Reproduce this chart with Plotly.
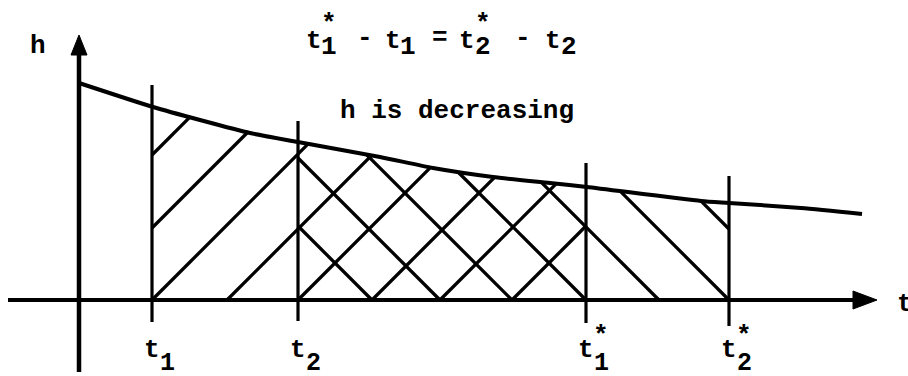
import numpy as np
import plotly.graph_objects as go

# ---- data (t along horizontal axis, h vertical) ----
curve_t = [0, 74, 121, 171, 219, 301, 354, 414, 471, 508, 622, 650, 722, 783]
curve_h = [217, 193, 180, 167, 158, 143, 132, 123, 117, 113, 99, 97, 92, 86]

mark_names = ["t1", "t2", "t1*", "t2*"]
mark_t = [73, 219, 507, 650]
mark_top = [215, 179, 137, 124]
mark_bottom = [-22, -21, -23, -26]
mark_base = ["t", "t", "t", "t"]
mark_sub = ["1", "2", "1", "2"]
mark_star = [False, False, True, True]

# hatch line intercepts on the t axis
slash_starts = [-72, 1, 73, 148, 219, 293, 361, 433]      # "/" lines  h = t - s, t in [t1, t1*]
backslash_ends = [293, 361, 433, 507, 580, 650, 721]     # "\" lines  h = e - t, t in [t2, t2*]

axis_t = [-71, 798]
axis_h = [-72, 265]

note_text = "h is decreasing"

T1, T2, T1S, T2S = mark_t


def curve_at(t):
    return np.interp(t, curve_t, curve_h)


hx, hy = [], []
for s in slash_starts:
    lo = max(s, T1)
    hi = T1S
    if lo >= hi:
        continue
    grid = np.linspace(lo, hi, 4000)
    hv = grid - s
    if hv[0] >= curve_at(grid[0]):
        continue
    above = np.where(hv >= curve_at(grid))[0]
    end = grid[above[0]] if len(above) else hi
    hx += [lo, end, None]
    hy += [lo - s, end - s, None]

for e in backslash_ends:
    lo = T2
    hi = min(e, T2S)
    if lo >= hi:
        continue
    grid = np.linspace(lo, hi, 4000)
    hv = e - grid
    below = np.where(hv <= curve_at(grid))[0]
    if not len(below):
        continue
    start = grid[below[0]]
    hx += [start, hi, None]
    hy += [e - start, e - hi, None]

fig = go.Figure()

# hatching
fig.add_trace(go.Scatter(x=hx, y=hy, mode="lines", line=dict(color="black", width=3.3),
                         hoverinfo="skip"))

# vertical marks
vx, vy = [], []
for t, top, bot in zip(mark_t, mark_top, mark_bottom):
    vx += [t, t, None]
    vy += [bot, top, None]
fig.add_trace(go.Scatter(x=vx, y=vy, mode="lines", line=dict(color="black", width=3.2),
                         hoverinfo="skip"))

# curve
fig.add_trace(go.Scatter(x=curve_t, y=curve_h, mode="lines",
                         line=dict(color="black", width=4, shape="spline", smoothing=0.6),
                         hoverinfo="skip"))

# axes
fig.add_trace(go.Scatter(x=[axis_t[0], axis_t[1] - 10], y=[0, 0], mode="lines",
                         line=dict(color="black", width=4), hoverinfo="skip"))
fig.add_trace(go.Scatter(x=[0, 0], y=[axis_h[0], axis_h[1] - 10], mode="lines",
                         line=dict(color="black", width=4.5), hoverinfo="skip"))
# arrow heads
fig.add_trace(go.Scatter(x=[axis_t[1], axis_t[1] - 24, axis_t[1] - 24, axis_t[1]],
                         y=[0, 9, -9, 0], mode="lines", fill="toself", fillcolor="black",
                         line=dict(color="black", width=1), hoverinfo="skip"))
fig.add_trace(go.Scatter(x=[0, -8, 8, 0],
                         y=[axis_h[1], axis_h[1] - 20, axis_h[1] - 20, axis_h[1]],
                         mode="lines", fill="toself", fillcolor="black",
                         line=dict(color="black", width=1), hoverinfo="skip"))

FONT = "Liberation Mono"
FS = 26


def txt(x, y, s, size=FS, xanchor="center", weight="bold"):
    fig.add_annotation(x=x, y=y, xref="x", yref="y", text=s, showarrow=False,
                       xanchor=xanchor, yanchor="middle",
                       font=dict(family=FONT, size=size, color="black", weight=weight))


# mark labels
for t, b, sub, star in zip(mark_t, mark_base, mark_sub, mark_star):
    txt(t, -50, b)
    txt(t + 15, -63, sub, size=25)
    if star:
        txt(t + 15, -36, "*")

# axis labels
txt(-41, 254, "h")
txt(816, -4, "t", xanchor="left")

# title: t1* - t1 = t2* - t2
title_parts = [(235, 259, "t"), (250, 276, "*"), (250, 253, "1"),
               (286, 262, "-"),
               (314, 259, "t"), (329, 253, "1"),
               (361, 262, "="),
               (388, 259, "t"), (404, 276, "*"), (404, 253, "2"),
               (444, 262, "-"),
               (474, 259, "t"), (490, 253, "2")]
for x, y, s in title_parts:
    txt(x, y, s, size=26)

# note
txt(378, 189, note_text, size=26)

fig.update_layout(
    width=908, height=376,
    margin=dict(l=0, r=0, t=0, b=0),
    paper_bgcolor="white", plot_bgcolor="white",
    showlegend=False,
    xaxis=dict(range=[-79, 829], visible=False, fixedrange=True),
    yaxis=dict(range=[-76, 300], visible=False, fixedrange=True),
)

fig.write_html("out.html", config={"displayModeBar": False},
               post_script="document.body.style.margin='0';document.body.style.overflow='hidden';")
